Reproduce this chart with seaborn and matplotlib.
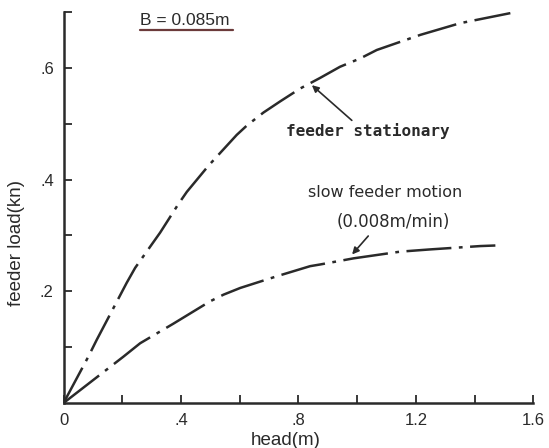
"""Feeder load vs head, two feeder conditions (B = 0.085 m)."""

import pandas as pd
import matplotlib
matplotlib.use('Agg')
import matplotlib.pyplot as plt
import seaborn as sns

# head (m) and feeder load (kN)
stationary_head = [0.0, 0.0845, 0.113, 0.215, 0.244, 0.329, 0.391, 0.42, 0.494, 0.59,
                   0.625, 0.681, 0.738, 0.806, 0.874, 0.942, 1.011, 1.067, 1.215, 1.351, 1.522]
stationary_load = [0.0, 0.083, 0.113, 0.215, 0.242, 0.305, 0.356, 0.378, 0.425, 0.48,
                   0.497, 0.52, 0.54, 0.563, 0.582, 0.602, 0.617, 0.632, 0.659, 0.68, 0.698]

slow_head = [0.0, 0.204, 0.261, 0.374, 0.499, 0.545, 0.602, 0.727, 0.84, 0.874,
             0.988, 1.147, 1.249, 1.42, 1.471]
slow_load = [0.0, 0.083, 0.107, 0.142, 0.182, 0.194, 0.206, 0.227, 0.245, 0.248,
             0.259, 0.271, 0.275, 0.281, 0.282]

x_major = [0, 0.4, 0.8, 1.2, 1.6]
x_labels = ['0', '.4', '.8', '1.2', '1.6']
y_major = [0.2, 0.4, 0.6]
y_labels = ['.2', '.4', '.6']

INK = '#2a2a2a'

df = pd.concat([
    pd.DataFrame({'head': stationary_head, 'load': stationary_load, 'case': 'stationary'}),
    pd.DataFrame({'head': slow_head, 'load': slow_load, 'case': 'slow'}),
])

sns.set_style('ticks')
plt.rcParams['font.family'] = ['Liberation Sans', 'DejaVu Sans']

fig = plt.figure(figsize=(5.49, 4.48), dpi=100)
ax = fig.add_axes([0.1157, 0.1004, 0.9713 - 0.1157, 0.9732 - 0.1004])

sns.lineplot(data=df, x='head', y='load', hue='case', style='case',
             palette={'stationary': INK, 'slow': INK},
             dashes={'stationary': (16, 3, 1.5, 3), 'slow': (18, 3, 1.5, 3)},
             linewidth=1.8, sort=False, legend=False, ax=ax)

ax.set_xlim(0, 1.6)
ax.set_ylim(0, 0.7)
ax.set_xticks(x_major)
ax.set_xticklabels(x_labels)
ax.set_xticks([0.2, 0.6, 1.0, 1.4], minor=True)
ax.set_yticks(y_major + [0.7])
ax.set_yticklabels(y_labels + [''])
ax.set_yticks([0.1, 0.3, 0.5], minor=True)

for side in ('top', 'right'):
    ax.spines[side].set_visible(False)
for side in ('left', 'bottom'):
    ax.spines[side].set_linewidth(1.8)
    ax.spines[side].set_color(INK)

ax.tick_params(which='both', direction='in', length=5.5, width=1.3, color=INK,
               labelsize=12, labelcolor=INK, pad=7)

ax.set_xlabel('head(m)', fontsize=13.5, color=INK)
ax.xaxis.set_label_coords(0.472, -0.075)
ax.set_ylabel('feeder load(kn)', fontsize=13.5, color=INK)
ax.yaxis.set_label_coords(-0.082, 0.41)

ax.text(0.261, 0.676, 'B = 0.085m', fontsize=12.5, color=INK)
ax.plot([0.261, 0.578], [0.668, 0.668], color='#6b3a3a', lw=1.6, clip_on=False)

ax.annotate('feeder stationary', xy=(0.846, 0.569), xytext=(0.758, 0.478),
            fontsize=11.5, fontweight='bold', family='DejaVu Sans Mono', color=INK)
ax.annotate('', xy=(0.846, 0.569), xytext=(0.982, 0.506),
            arrowprops=dict(arrowstyle='-|>', color=INK, lw=1.2, shrinkA=0, shrinkB=0,
                            mutation_scale=10))
ax.annotate('', xy=(0.983, 0.266), xytext=(1.038, 0.299),
            arrowprops=dict(arrowstyle='-|>', color=INK, lw=1.2, shrinkA=0, shrinkB=0,
                            mutation_scale=10))
ax.text(0.834, 0.368, 'slow feeder motion', fontsize=11.5, color=INK,
        family='DejaVu Sans')
ax.text(0.93, 0.315, '(0.008m/min)', fontsize=12, color=INK, family='DejaVu Sans')

fig.savefig('out.png', dpi=100)
